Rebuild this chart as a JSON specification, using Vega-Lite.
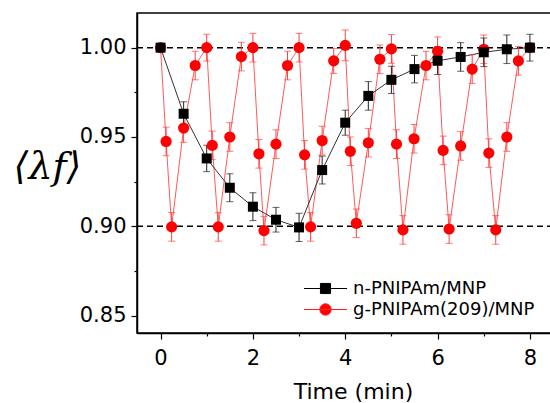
{
  "$schema": "https://vega.github.io/schema/vega-lite/v6.json",
  "width": 416,
  "height": 320,
  "autosize": {"type": "none"},
  "padding": {"left": 137, "top": 13, "right": 0, "bottom": 70},
  "background": "white",
  "config": {
    "font": "DejaVu Sans",
    "view": {"stroke": "black", "strokeWidth": 1.5},
    "axis": {"grid": false, "domainColor": "black", "domainWidth": 1.5, "tickColor": "black", "tickWidth": 1.2, "labelColor": "black", "titleColor": "black", "labelFont": "DejaVu Sans", "labelFontSize": 21, "titleFontWeight": "normal"}
  },
  "datasets": {
    "series": [
      {"s": "g-PNIPAm(209)/MNP", "t": 0, "v": 1.0, "e": 0.002},
      {"s": "g-PNIPAm(209)/MNP", "t": 0.12, "v": 0.9475, "e": 0.008},
      {"s": "g-PNIPAm(209)/MNP", "t": 0.24, "v": 0.8997, "e": 0.008},
      {"s": "g-PNIPAm(209)/MNP", "t": 0.5, "v": 0.955, "e": 0.008},
      {"s": "g-PNIPAm(209)/MNP", "t": 0.75, "v": 0.990, "e": 0.008},
      {"s": "g-PNIPAm(209)/MNP", "t": 1.0, "v": 1.000, "e": 0.0075},
      {"s": "g-PNIPAm(209)/MNP", "t": 1.12, "v": 0.9453, "e": 0.008},
      {"s": "g-PNIPAm(209)/MNP", "t": 1.25, "v": 0.8997, "e": 0.008},
      {"s": "g-PNIPAm(209)/MNP", "t": 1.5, "v": 0.950, "e": 0.008},
      {"s": "g-PNIPAm(209)/MNP", "t": 1.75, "v": 0.995, "e": 0.008},
      {"s": "g-PNIPAm(209)/MNP", "t": 2.0, "v": 1.000, "e": 0.008},
      {"s": "g-PNIPAm(209)/MNP", "t": 2.13, "v": 0.9406, "e": 0.008},
      {"s": "g-PNIPAm(209)/MNP", "t": 2.24, "v": 0.8976, "e": 0.008},
      {"s": "g-PNIPAm(209)/MNP", "t": 2.5, "v": 0.946, "e": 0.008},
      {"s": "g-PNIPAm(209)/MNP", "t": 2.75, "v": 0.990, "e": 0.008},
      {"s": "g-PNIPAm(209)/MNP", "t": 3.0, "v": 1.000, "e": 0.008},
      {"s": "g-PNIPAm(209)/MNP", "t": 3.12, "v": 0.940, "e": 0.008},
      {"s": "g-PNIPAm(209)/MNP", "t": 3.25, "v": 0.8997, "e": 0.008},
      {"s": "g-PNIPAm(209)/MNP", "t": 3.5, "v": 0.948, "e": 0.008},
      {"s": "g-PNIPAm(209)/MNP", "t": 3.75, "v": 0.9926, "e": 0.007},
      {"s": "g-PNIPAm(209)/MNP", "t": 4.0, "v": 1.0013, "e": 0.0086},
      {"s": "g-PNIPAm(209)/MNP", "t": 4.11, "v": 0.942, "e": 0.008},
      {"s": "g-PNIPAm(209)/MNP", "t": 4.24, "v": 0.9017, "e": 0.008},
      {"s": "g-PNIPAm(209)/MNP", "t": 4.5, "v": 0.9468, "e": 0.008},
      {"s": "g-PNIPAm(209)/MNP", "t": 4.75, "v": 0.9935, "e": 0.008},
      {"s": "g-PNIPAm(209)/MNP", "t": 5.0, "v": 0.9993, "e": 0.008},
      {"s": "g-PNIPAm(209)/MNP", "t": 5.11, "v": 0.946, "e": 0.008},
      {"s": "g-PNIPAm(209)/MNP", "t": 5.25, "v": 0.898, "e": 0.008},
      {"s": "g-PNIPAm(209)/MNP", "t": 5.49, "v": 0.949, "e": 0.008},
      {"s": "g-PNIPAm(209)/MNP", "t": 5.75, "v": 0.990, "e": 0.008},
      {"s": "g-PNIPAm(209)/MNP", "t": 6.0, "v": 0.998, "e": 0.008},
      {"s": "g-PNIPAm(209)/MNP", "t": 6.12, "v": 0.9425, "e": 0.008},
      {"s": "g-PNIPAm(209)/MNP", "t": 6.25, "v": 0.8985, "e": 0.008},
      {"s": "g-PNIPAm(209)/MNP", "t": 6.5, "v": 0.945, "e": 0.008},
      {"s": "g-PNIPAm(209)/MNP", "t": 6.75, "v": 0.988, "e": 0.008},
      {"s": "g-PNIPAm(209)/MNP", "t": 7.0, "v": 0.9991, "e": 0.008},
      {"s": "g-PNIPAm(209)/MNP", "t": 7.11, "v": 0.941, "e": 0.008},
      {"s": "g-PNIPAm(209)/MNP", "t": 7.26, "v": 0.898, "e": 0.008},
      {"s": "g-PNIPAm(209)/MNP", "t": 7.5, "v": 0.950, "e": 0.008},
      {"s": "g-PNIPAm(209)/MNP", "t": 7.75, "v": 0.9926, "e": 0.008},
      {"s": "g-PNIPAm(209)/MNP", "t": 8.0, "v": 1.000, "e": 0.002},
      {"s": "n-PNIPAm/MNP", "t": 0, "v": 1.000, "e": 0.001},
      {"s": "n-PNIPAm/MNP", "t": 0.5, "v": 0.963, "e": 0.0067},
      {"s": "n-PNIPAm/MNP", "t": 1.0, "v": 0.938, "e": 0.0074},
      {"s": "n-PNIPAm/MNP", "t": 1.5, "v": 0.9216, "e": 0.0078},
      {"s": "n-PNIPAm/MNP", "t": 2.0, "v": 0.911, "e": 0.0078},
      {"s": "n-PNIPAm/MNP", "t": 2.5, "v": 0.9037, "e": 0.0069},
      {"s": "n-PNIPAm/MNP", "t": 3.0, "v": 0.8994, "e": 0.0079},
      {"s": "n-PNIPAm/MNP", "t": 3.5, "v": 0.9315, "e": 0.0078},
      {"s": "n-PNIPAm/MNP", "t": 4.0, "v": 0.958, "e": 0.007},
      {"s": "n-PNIPAm/MNP", "t": 4.5, "v": 0.973, "e": 0.008},
      {"s": "n-PNIPAm/MNP", "t": 5.0, "v": 0.982, "e": 0.0076},
      {"s": "n-PNIPAm/MNP", "t": 5.5, "v": 0.988, "e": 0.0077},
      {"s": "n-PNIPAm/MNP", "t": 6.0, "v": 0.9927, "e": 0.0077},
      {"s": "n-PNIPAm/MNP", "t": 6.5, "v": 0.9948, "e": 0.008},
      {"s": "n-PNIPAm/MNP", "t": 7.0, "v": 0.9974, "e": 0.008},
      {"s": "n-PNIPAm/MNP", "t": 7.5, "v": 0.9991, "e": 0.008},
      {"s": "n-PNIPAm/MNP", "t": 8.0, "v": 1.000, "e": 0.0075}
    ],
    "refs": [{"v": 1.0}, {"v": 0.9}]
  },
  "encoding": {
    "y": {
      "field": "v", "type": "quantitative",
      "scale": {"domain": [0.8403, 1.0194], "nice": false, "zero": false},
      "axis": {
        "values": [0.85, 0.875, 0.9, 0.925, 0.95, 0.975, 1.0],
        "labelExpr": "round(datum.value*1000) % 50 === 0 ? format(datum.value, '.2f') : ''",
        "tickSize": {"condition": {"test": "round(datum.value*1000) % 50 === 0", "value": 6}, "value": 3},
        "labelPadding": 5,
        "labelBaseline": "middle",
        "title": "⟨λf⟩",
        "titleFont": "DejaVu Serif",
        "titleFontStyle": "italic",
        "titleFontSize": 38,
        "titleAngle": 0,
        "titleX": -90,
        "titleY": 154,
        "titleAlign": "center",
        "titleBaseline": "middle"
      }
    }
  },
  "layer": [
    {
      "data": {"name": "refs"},
      "mark": {"type": "rule", "color": "black", "strokeWidth": 1.5, "strokeDash": [6, 4]},
      "encoding": {}
    },
    {
      "data": {"name": "series"},
      "mark": {"type": "line", "strokeWidth": 1},
      "encoding": {
        "x": {"field": "t", "type": "quantitative", "scale": {"domain": [-0.51, 8.5], "nice": false, "zero": false},
          "axis": {"values": [0, 1, 2, 3, 4, 5, 6, 7, 8], "labelExpr": "datum.value % 2 === 0 ? datum.value : ''",
            "tickSize": {"condition": {"test": "datum.value % 2 === 0", "value": 6}, "value": 3},
            "labelPadding": 8, "title": "Time (min)", "titleFontSize": 22, "titleX": 216, "titleY": 65, "titleBaseline": "alphabetic"}},
        "color": {"field": "s", "type": "nominal", "scale": {"domain": ["n-PNIPAm/MNP", "g-PNIPAm(209)/MNP"], "range": ["#333333", "#ff5a5a"]}, "legend": null},
        "detail": {"field": "s"}
      }
    },
    {
      "data": {"name": "series"},
      "mark": {"type": "errorbar", "ticks": true, "size": 7, "thickness": 1},
      "encoding": {
        "x": {"field": "t", "type": "quantitative"},
        "yError": {"field": "e"},
        "color": {"field": "s", "type": "nominal", "scale": {"domain": ["n-PNIPAm/MNP", "g-PNIPAm(209)/MNP"], "range": ["#222222", "#ff4040"]}, "legend": null}
      }
    },
    {
      "data": {"name": "series"},
      "mark": {"type": "point", "filled": true, "opacity": 1},
      "encoding": {
        "x": {"field": "t", "type": "quantitative"},
        "size": {"field": "s", "type": "nominal", "scale": {"domain": ["n-PNIPAm/MNP", "g-PNIPAm(209)/MNP"], "range": [100, 125]}, "legend": null},
        "shape": {"field": "s", "type": "nominal", "scale": {"domain": ["n-PNIPAm/MNP", "g-PNIPAm(209)/MNP"], "range": ["square", "circle"]}, "legend": null},
        "color": {"field": "s", "type": "nominal", "scale": {"domain": ["n-PNIPAm/MNP", "g-PNIPAm(209)/MNP"], "range": ["#000000", "#ff0000"]},
          "legend": {
            "orient": "none", "legendX": 177, "legendY": 264, "title": null, "padding": 0, "offset": 0,
            "labelFontSize": 18, "labelFont": "DejaVu Sans", "labelColor": "black", "labelOffset": 16, "labelLimit": 0,
            "symbolSize": 462, "rowPadding": 0,
            "encoding": {"symbols": {
              "shape": {"condition": {"test": "datum.value === 'n-PNIPAm/MNP'", "value": "M-2,0H2M-0.47,-0.47H0.47V0.47H-0.47Z"}, "value": "M-2,0H2M0.53,0A0.53,0.53,0,1,1,-0.53,0A0.53,0.53,0,1,1,0.53,0Z"},
              "stroke": {"condition": {"test": "datum.value === 'n-PNIPAm/MNP'", "value": "#000000"}, "value": "#ff2020"},
              "fill": {"condition": {"test": "datum.value === 'n-PNIPAm/MNP'", "value": "#000000"}, "value": "#ff0000"},
              "strokeWidth": {"value": 1},
              "opacity": {"value": 1},
              "size": {"value": 462}
            }}
          }}
      }
    }
  ],
  "resolve": {"scale": {"color": "independent"}}
}
